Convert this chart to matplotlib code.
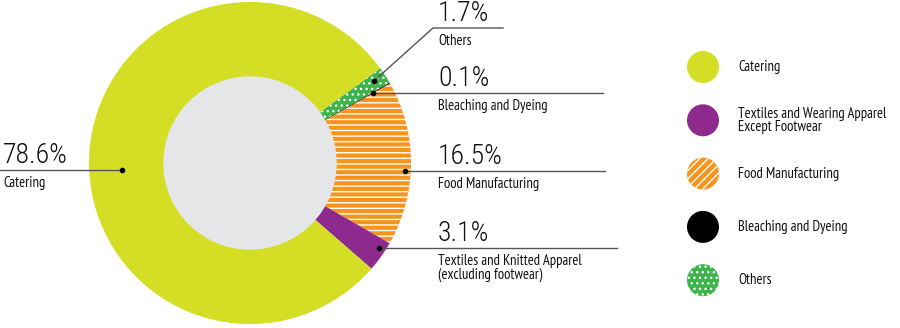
import matplotlib
matplotlib.use("Agg")
import matplotlib.pyplot as plt
from matplotlib.patches import Circle

plt.rcParams['font.family'] = ['PT Sans Narrow', 'DejaVu Sans']
plt.rcParams['hatch.linewidth'] = 1.0
PCT_FONT = ['Roboto Condensed', 'DejaVu Sans']

# data (clockwise from the top right)
labels = ['Others', 'Bleaching and Dyeing', 'Food Manufacturing',
          'Textiles and Knitted Apparel\n(excluding footwear)', 'Catering']
values = [1.7, 0.1, 16.5, 3.1, 78.6]
pct_text = ['1.7%', '0.1%', '16.5%', '3.1%', '78.6%']
colors = ['#3bb54a', '#000000', '#f7941d', '#8e2a8e', '#d4de25']
hatches = ['...', None, '---', None, None]

legend_labels = ['Catering', 'Textiles and Wearing Apparel\nExcept Footwear',
                 'Food Manufacturing', 'Bleaching and Dyeing', 'Others']
legend_colors = ['#d4de25', '#8e2a8e', '#f7941d', '#000000', '#3bb54a']
legend_hatch = [None, None, '////', None, '...']

W, H = 900, 328
fig = plt.figure(figsize=(9, 3.28), dpi=100)
ax = fig.add_axes([0, 0, 1, 1])
ax.axis('off')

cx, cy, R, r_in = 250, H - 163, 161, 86
wedges, _ = ax.pie(values, colors=colors, startangle=36, counterclock=False,
                   center=(cx, cy), radius=R, frame=False,
                   wedgeprops=dict(width=R - r_in, linewidth=0))
for w, h in zip(wedges, hatches):
    if h:
        w.set_hatch(h)
        w.set_edgecolor('white')
        w.set_linewidth(0)
ax.add_patch(Circle((cx, cy), r_in, color='#e5e6e8', zorder=3))
ax.set_xlim(0, W)
ax.set_ylim(0, H)

line_col = '#555555'
def callout(dot, path, tx, ly, pct, lab):
    xs = [p[0] for p in path]
    ys = [H - p[1] for p in path]
    ax.plot(xs, ys, color=line_col, lw=1, zorder=5)
    ax.plot(dot[0], H - dot[1], 'o', color='black', ms=3, zorder=6)
    ax.text(tx, H - ly + 7, pct, fontsize=20, family=PCT_FONT, fontweight='light',
            va='baseline', ha='left', color='#111111')
    ax.text(tx, H - ly - 6, lab, fontsize=10.5, va='top', ha='left', color='#111111',
            linespacing=0.95)

callout((374, 81), [(374, 81), (433, 28), (503, 28)], 438, 28, pct_text[0], labels[0])
callout((373, 93), [(373, 93), (603, 93)], 438, 93, pct_text[1], labels[1])
callout((405, 171), [(405, 171), (605, 171)], 438, 171, pct_text[2], labels[2])
callout((379, 248), [(379, 248), (617, 248)], 438, 248, pct_text[3], labels[3])
callout((122, 170), [(122, 170), (0, 170)], 3, 170, pct_text[4], labels[4])

# legend
for i, (lab, col, h) in enumerate(zip(legend_labels, legend_colors, legend_hatch)):
    y = H - (67 + i * 53.3)
    c = Circle((703, y), 16, facecolor=col, edgecolor='white' if h else col,
               linewidth=0, hatch=h, zorder=4)
    ax.add_patch(c)
    ax.text(738, y, lab, fontsize=10.5, va='center', ha='left', color='#111111',
            linespacing=0.9)

fig.savefig('out.png', dpi=100)
